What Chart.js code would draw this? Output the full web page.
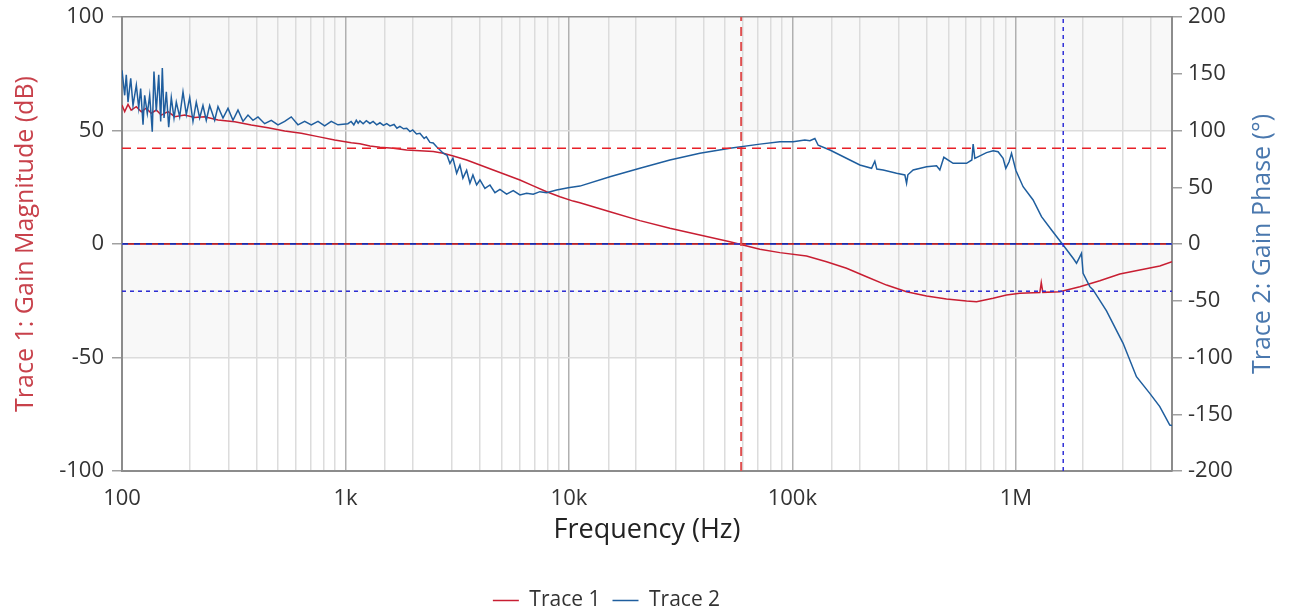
<!DOCTYPE html>
<html><head><meta charset="utf-8">
<script src="https://cdn.jsdelivr.net/npm/chart.js@4.4.1/dist/chart.umd.min.js"></script>
<style>html,body{margin:0;padding:0;background:#fff;}#wrap{width:1289px;height:614px;}</style>
</head><body><div id="wrap"><canvas id="c" width="1289" height="614" style="width:1289px;height:614px"></canvas></div>
<script>
// ---------- DATA ----------
const freq1 = [100,102.8,106.4,109.9,115.9,122,128.4,135.2,142.4,149.9,160.6,172.1,190.8,211.5,234.4,268.9,319.4,378.9,450,534.6,634.2,753.5,894.6,1062,1161,1287,1427,1637,1878,2154,2471,2739,3037,3486,3998,4585,5263,6037,6925,7948,9115,10450,11200,15260,20780,28310,38560,52540,60030,71560,87930,115700,142200,174800,214800,264000,324400,398700,489700,601800,667300,791200,908500,1042000,1281000,1300000,1321000,1574000,1934000,2376000,2920000,3587000,4409000,5000000];
const mag1 = [61.2,58.3,61.5,59,60.5,58.3,59.8,57.6,59,56.8,58.3,56.1,56.8,55.7,56.1,54.6,53.9,52.4,51.2,49.8,48.8,47.3,45.8,44.6,44.2,43.2,42.6,42.2,41.4,41.1,40.7,40,38.8,37,34.8,32.6,30.4,28.2,25.6,23,20.8,18.9,18.2,14.2,10.3,6.9,4,1,-0.4,-2.3,-3.8,-5.3,-7.8,-10.7,-14.4,-18.1,-21,-22.9,-24.2,-25.1,-25.4,-23.9,-22.5,-21.7,-21.4,-17,-21.3,-21,-18.8,-16.2,-13.2,-11.5,-9.7,-7.8];

const freq2 = [100,102.8,104.5,106.4,109.4,112,115.9,118.8,121.2,124.2,126.3,129.8,133,136.6,139,142.4,146,149,151.5,154.2,157.9,161.8,166.2,170.9,175,181.2,187.5,194,200.9,207.8,215,222.6,230.3,238.3,246.8,259.9,268.9,283.1,298.1,313.8,330.4,347.9,366.3,385.6,406,435,465.6,498.9,534.6,572,613,656.8,703,753.5,807,864,925.6,
  1026,1060,1090,1118,1140,1161,1200,1240,1287,1330,1380,1427,1480,1530,1582,1650,1700,1753,1820,1880,1944,2000,2080,2154,2250,2300,2388,2470,2559,2648,2739,2850,2935,3027,3145,3253,3355,3486,3606,3719,3864,3998,4209,4432,4667,4913,5263,5634,6037,6466,6925,7418,7948,8810,9929,
  11200,15260,20780,28310,38560,52540,71560,87930,100800,113700,119800,126100,130500,147200,163200,180900,200500,226200,233900,238800,254900,292600,318800,324400,328800,347200,398700,441900,457100,476400,524200,601800,635600,644200,655500,739400,791200,833100,877200,902000,933300,956700,1000000,1078000,1195000,1303000,1445000,1628000,1805000,1869000,1968000,2000000,2144000,2218000,2546000,3021000,3467000,3977000,4409000,4887000,5000000];
const phase2 = [153,131,149,125,146,122,140,120,137,105,131,115,131,99,152,117,149,108,155,111,134,103,129,111,125,112,134,114,129,108,125,111,122,109,122,109,121,111,119.5,109,118,108,113.6,109,112,106,109,105,108,112,105,108,105,108,104,108,105,
  106,108,105,109,106.5,108.5,106,108.7,106.2,108,105,106.8,104.5,106,104,105.3,102,103.6,101.5,102,99,100.5,97,97.5,93,94.5,89.5,89,85.7,82.8,80,78,71,75.6,62.3,69.6,58,65,53.6,60.8,52,56.4,49,52,45.2,48.2,44,47,43.2,44.7,43.8,46.1,45.2,47.6,49.6,
  51,59.3,66.7,74,80,84.3,88,90,90.1,91.6,91,93,87,82.8,78.4,74,69.6,66.7,73,66,65.2,62.3,60.8,53.5,61,65.2,68.1,69,65.2,76.4,71.1,71.1,74,88,75.5,80.5,82.2,81.3,75.5,66.7,72.5,79.9,65,50.5,38.8,24.1,12.3,-0.9,-12.6,-17,-8.2,-25.8,-37.6,-40.5,-59,-87.5,-116.9,-131.6,-143.3,-159.5,-160];

// cursor / margin markers
const crossoverFreq = 59000;     // Hz (gain = 0 dB)
const phaseMargin = 84.4;        // deg
const phaseCrossFreq = 1630000;  // Hz (phase = 0 deg)
const gainMargin = -20.8;        // dB

const freqRange = [100, 5000000];
const magRange = [-100, 100];
const phaseRange = [-200, 200];
const xTickValues = [100, 1000, 10000, 100000, 1000000];
const xTickLabels = ['100', '1k', '10k', '100k', '1M'];
const seriesNames = ['Trace 1', 'Trace 2'];

// ---------- LAYOUT / STYLE ----------
const PLOT = {top: 17, left: 122, right: 1172, bottom: 471};
const LEGEND_SHIFT = {x: -38, y: 7};
const FONT = '"Open Sans", "Noto Sans", sans-serif';
const RED = '#c81e32', BLUE = '#1f5e9e';
const shadedBands = [[50, 100], [-50, 0]];

Chart.defaults.font.family = FONT;
Chart.defaults.color = '#333';

const pts = (xs, ys) => xs.map((x, i) => ({x, y: ys[i]}));
const isDecade = v => xTickValues.some(t => Math.abs(v / t - 1) < 1e-6);

const bandPlugin = {
  id: 'bands',
  beforeDraw(chart) {
    const {ctx, chartArea, scales} = chart;
    const y = scales.y;
    ctx.save();
    ctx.fillStyle = '#f8f8f8';
    shadedBands.forEach(([a, b]) => {
      const y1 = y.getPixelForValue(b), y2 = y.getPixelForValue(a);
      ctx.fillRect(chartArea.left, y1, chartArea.right - chartArea.left, y2 - y1);
    });
    ctx.restore();
  }
};
const legendShiftPlugin = {
  id: 'legendShift',
  afterLayout(chart) {
    const lg = chart.legend;
    if (!lg) return;
    lg.right += 2 * LEGEND_SHIFT.x;
    lg.top += LEGEND_SHIFT.y;
    lg.bottom += LEGEND_SHIFT.y;
  }
};
const rightTitlePlugin = {
  id: 'rightTitle',
  afterDraw(chart) {
    const {ctx, chartArea} = chart;
    ctx.save();
    ctx.translate(1263, (chartArea.top + chartArea.bottom) / 2);
    ctx.rotate(-Math.PI / 2);
    ctx.font = '25px ' + FONT;
    ctx.fillStyle = '#4a78ae';
    ctx.textAlign = 'center';
    ctx.textBaseline = 'middle';
    ctx.fillText('Trace 2: Gain Phase (°)', 0, 0);
    ctx.restore();
  }
};

const lineDs = (label, data, axis, color, width, dash, order, dashOffset) => ({
  label, data, yAxisID: axis, borderColor: color, backgroundColor: color,
  borderWidth: width, borderDash: dash || [], borderDashOffset: dashOffset || 0,
  pointRadius: 0, fill: false, tension: 0, order
});

new Chart(document.getElementById('c'), {
  type: 'line',
  data: {
    datasets: [
      lineDs(seriesNames[0], pts(freq1, mag1), 'y', RED, 1.5, null, 5),
      lineDs(seriesNames[1], pts(freq2, phase2), 'y2', BLUE, 1.5, null, 4),
      lineDs('', [{x: freqRange[0], y: 0}, {x: freqRange[1], y: 0}], 'y2', '#2a3ad8', 1.5, [6, 6], 3, 0),
      lineDs('', [{x: freqRange[0], y: 0}, {x: freqRange[1], y: 0}], 'y', '#e8303a', 1.5, [6, 6], 3, 6),
      lineDs('', [{x: freqRange[0], y: phaseMargin}, {x: freqRange[1], y: phaseMargin}], 'y2', '#e82028', 1.5, [9, 6], 1),
      lineDs('', [{x: crossoverFreq, y: magRange[0]}, {x: crossoverFreq, y: magRange[1]}], 'y', '#e05050', 2, [9, 6], 1),
      lineDs('', [{x: freqRange[0], y: gainMargin}, {x: freqRange[1], y: gainMargin}], 'y', '#2a2ad0', 1.5, [4, 4], 1),
      lineDs('', [{x: phaseCrossFreq, y: magRange[0]}, {x: phaseCrossFreq, y: magRange[1]}], 'y', '#3030d8', 1.5, [4, 4], 1)
    ]
  },
  options: {
    responsive: false,
    animation: false,
    layout: {padding: {top: PLOT.top, left: 0, right: 0, bottom: 0}},
    plugins: {
      tooltip: {enabled: false},
      legend: {
        position: 'bottom',
        labels: {
          usePointStyle: true, pointStyle: 'line', pointStyleWidth: 26,
          font: {size: 21}, color: '#333', padding: 12,
          filter: item => item.datasetIndex < 2,
          sort: (a, b) => a.datasetIndex - b.datasetIndex
        }
      }
    },
    scales: {
      x: {
        type: 'logarithmic', position: 'bottom',
        min: freqRange[0], max: freqRange[1],
        ticks: {
          autoSkip: false, maxRotation: 0, minRotation: 0, padding: 15,
          font: {size: 22}, color: '#333',
          callback: v => { const i = xTickValues.findIndex(t => Math.abs(v / t - 1) < 1e-6); return i >= 0 ? xTickLabels[i] : ''; }
        },
        grid: {color: c => isDecade(c.tick.value) ? '#b0b0b0' : '#dcdcdc', lineWidth: 1.5, drawTicks: false},
        border: {display: true, color: '#8c8c8c', width: 2},
        title: {display: true, text: 'Frequency (Hz)', font: {size: 27}, color: '#222', padding: {top: 0, bottom: 24}},
        afterFit: s => { s.height = s.chart.height - PLOT.bottom - (s.chart.legend ? s.chart.legend.height : 0); s.paddingLeft = 0; s.paddingRight = 0; }
      },
      y: {
        position: 'left', min: magRange[0], max: magRange[1],
        ticks: {stepSize: 50, font: {size: 22}, color: '#333', padding: 8},
        grid: {
          color: c => c.tick.value === 0 ? '#000' : (c.tick.value === magRange[1] ? '#8c8c8c' : '#dcdcdc'),
          tickColor: '#a0a0a0', tickLength: 10, lineWidth: 1.5
        },
        border: {display: true, color: '#8c8c8c', width: 2},
        title: {display: true, text: 'Trace 1: Gain Magnitude (dB)', font: {size: 25}, color: '#c8414b', padding: {top: 11, bottom: 0}},
        afterFit: s => { s.width = PLOT.left; s.paddingTop = 0; s.paddingBottom = 0; }
      },
      y2: {
        position: 'right', min: phaseRange[0], max: phaseRange[1],
        ticks: {stepSize: 50, font: {size: 22}, color: '#333', padding: 6},
        grid: {drawOnChartArea: false, tickColor: '#a0a0a0', tickLength: 10, lineWidth: 1.5},
        border: {display: true, color: '#8c8c8c', width: 2},
        title: {display: false},
        afterFit: s => { s.width = s.chart.width - PLOT.right; s.paddingTop = 0; s.paddingBottom = 0; }
      }
    }
  },
  plugins: [bandPlugin, legendShiftPlugin, rightTitlePlugin]
});
</script></body></html>
